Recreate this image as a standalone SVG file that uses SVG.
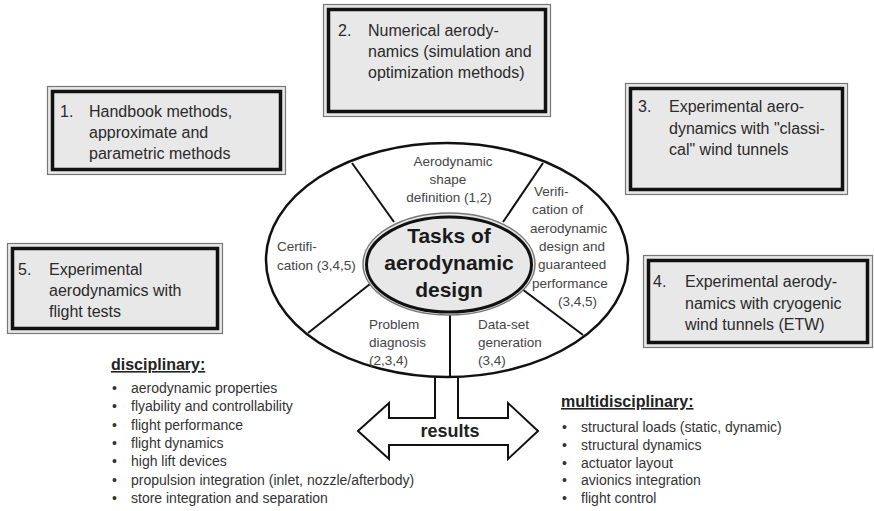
<svg xmlns="http://www.w3.org/2000/svg" width="874" height="511" viewBox="0 0 874 511">
<style>
.bo{fill:#e8e8e8;stroke:#777;stroke-width:1.2}
.bi{fill:none;stroke:#111;stroke-width:3.5}
.bt{font-family:"Liberation Sans",Arial,sans-serif;font-size:16px;fill:#2a2a2a}
.st{font-family:"Liberation Sans",Arial,sans-serif;font-size:13.5px;fill:#444}
.ct{font-family:"Liberation Sans",Arial,sans-serif;font-size:21px;font-weight:bold;fill:#1a1a1a;text-anchor:middle}
.li{font-family:"Liberation Sans",Arial,sans-serif;font-size:14px;fill:#333}
.hd{font-family:"Liberation Sans",Arial,sans-serif;font-size:16px;font-weight:bold;fill:#222;text-decoration:underline}
.ln{stroke:#111;stroke-width:2;fill:none}
</style>
<rect width="874" height="511" fill="#fff"/>

<g id="box1">
<rect class="bo" x="47.5" y="86.5" width="238" height="88"/>
<rect class="bi" x="52.5" y="91.5" width="228" height="78"/>
<text class="bt" x="60" y="117">1.</text>
<text class="bt" x="89" y="117">Handbook methods,</text>
<text class="bt" x="89" y="138">approximate and</text>
<text class="bt" x="89" y="158.5">parametric methods</text>
</g>

<g id="box2">
<rect class="bo" x="323.5" y="4.5" width="227" height="112"/>
<rect class="bi" x="328.5" y="9.5" width="217" height="102"/>
<text class="bt" x="338" y="36">2.</text>
<text class="bt" x="368" y="36">Numerical aerody-</text>
<text class="bt" x="368" y="57">namics (simulation and</text>
<text class="bt" x="368" y="77.5">optimization methods)</text>
</g>

<g id="box3">
<rect class="bo" x="625.5" y="83.5" width="222" height="111"/>
<rect class="bi" x="630.5" y="88.5" width="212" height="101"/>
<text class="bt" x="638" y="112">3.</text>
<text class="bt" x="669" y="112">Experimental aero-</text>
<text class="bt" x="669" y="133.5">dynamics with "classi-</text>
<text class="bt" x="669" y="155">cal" wind tunnels</text>
</g>

<g id="box4">
<rect class="bo" x="643.5" y="255.5" width="229" height="92"/>
<rect class="bi" x="648.5" y="260.5" width="219" height="82"/>
<text class="bt" x="653" y="287">4.</text>
<text class="bt" x="685" y="287">Experimental aerody-</text>
<text class="bt" x="685" y="308.5">namics with cryogenic</text>
<text class="bt" x="685" y="330">wind tunnels (ETW)</text>
</g>

<g id="box5">
<rect class="bo" x="7.5" y="243.5" width="215" height="90"/>
<rect class="bi" x="12.5" y="248.5" width="205" height="80"/>
<text class="bt" x="18" y="275">5.</text>
<text class="bt" x="49" y="275">Experimental</text>
<text class="bt" x="49" y="296">aerodynamics with</text>
<text class="bt" x="49" y="317">flight tests</text>
</g>

<g id="results">
<path d="M435,372 V418 H389 V403 L358,431 L389,459 V445 H508 V459 L538,431 L508,403 V418 H458 V372" fill="#fff" stroke="#111" stroke-width="2" stroke-linejoin="miter"/>
<text x="450" y="437" font-family="'Liberation Sans',Arial,sans-serif" font-size="18" font-weight="bold" fill="#222" text-anchor="middle">results</text>
</g>

<g id="tasks-wheel">
<ellipse cx="447" cy="260" rx="181" ry="117" fill="#fff" stroke="#111" stroke-width="2.5"/>
</g>

<g id="connectors">
<line class="ln" x1="352" y1="163" x2="394" y2="222"/>
<line class="ln" x1="543" y1="163" x2="503" y2="222"/>
<line class="ln" x1="308" y1="333" x2="370" y2="284"/>
<line class="ln" x1="583" y1="335" x2="522" y2="289"/>
<line class="ln" x1="450" y1="310" x2="450" y2="377"/>
</g>

<g id="center">
<ellipse cx="449" cy="264" rx="86" ry="51" fill="#e8e8e8" stroke="#777" stroke-width="1.5"/>
<ellipse cx="449" cy="264.5" rx="82.5" ry="47.5" fill="none" stroke="#111" stroke-width="3"/>
<text class="ct" x="449" y="243">Tasks of</text>
<text class="ct" x="449" y="270">aerodynamic</text>
<text class="ct" x="449" y="297">design</text>
</g>

<g id="seg-shape">
<text class="st" x="453" y="166" text-anchor="middle">Aerodynamic</text>
<text class="st" x="448" y="184" text-anchor="middle">shape</text>
<text class="st" x="449" y="202" text-anchor="middle">definition (1,2)</text>
</g>

<g id="seg-verification">
<text class="st" x="534" y="196">Verifi-</text>
<text class="st" x="532" y="214">cation of</text>
<text class="st" x="530" y="232.5">aerodynamic</text>
<text class="st" x="539" y="251">design and</text>
<text class="st" x="538" y="269">guaranteed</text>
<text class="st" x="532" y="287.5">performance</text>
<text class="st" x="558" y="306">(3,4,5)</text>
</g>

<g id="seg-certification">
<text class="st" x="277" y="251">Certifi-</text>
<text class="st" x="277" y="270">cation (3,4,5)</text>
</g>

<g id="seg-problem">
<text class="st" x="369" y="329">Problem</text>
<text class="st" x="369" y="347">diagnosis</text>
<text class="st" x="369" y="365">(2,3,4)</text>
</g>

<g id="seg-dataset">
<text class="st" x="478" y="329">Data-set</text>
<text class="st" x="478" y="347">generation</text>
<text class="st" x="478" y="365">(3,4)</text>
</g>

<g id="disciplinary">
<text class="hd" x="111" y="370">disciplinary:</text>
<text class="li" x="112" y="393">•</text><text class="li" x="131" y="393">aerodynamic properties</text>
<text class="li" x="112" y="411.3">•</text><text class="li" x="131" y="411.3">flyability and controllability</text>
<text class="li" x="112" y="429.6">•</text><text class="li" x="131" y="429.6">flight performance</text>
<text class="li" x="112" y="447.9">•</text><text class="li" x="131" y="447.9">flight dynamics</text>
<text class="li" x="112" y="466.2">•</text><text class="li" x="131" y="466.2">high lift devices</text>
<text class="li" x="112" y="484.5">•</text><text class="li" x="131" y="484.5">propulsion integration (inlet, nozzle/afterbody)</text>
<text class="li" x="112" y="502.8">•</text><text class="li" x="131" y="502.8">store integration and separation</text>
</g>

<g id="multidisciplinary">
<text class="hd" x="561" y="407">multidisciplinary:</text>
<text class="li" x="562" y="432">•</text><text class="li" x="581" y="432">structural loads (static, dynamic)</text>
<text class="li" x="562" y="449.8">•</text><text class="li" x="581" y="449.8">structural dynamics</text>
<text class="li" x="562" y="467.6">•</text><text class="li" x="581" y="467.6">actuator layout</text>
<text class="li" x="562" y="485.4">•</text><text class="li" x="581" y="485.4">avionics integration</text>
<text class="li" x="562" y="503.2">•</text><text class="li" x="581" y="503.2">flight control</text>
</g>
</svg>
